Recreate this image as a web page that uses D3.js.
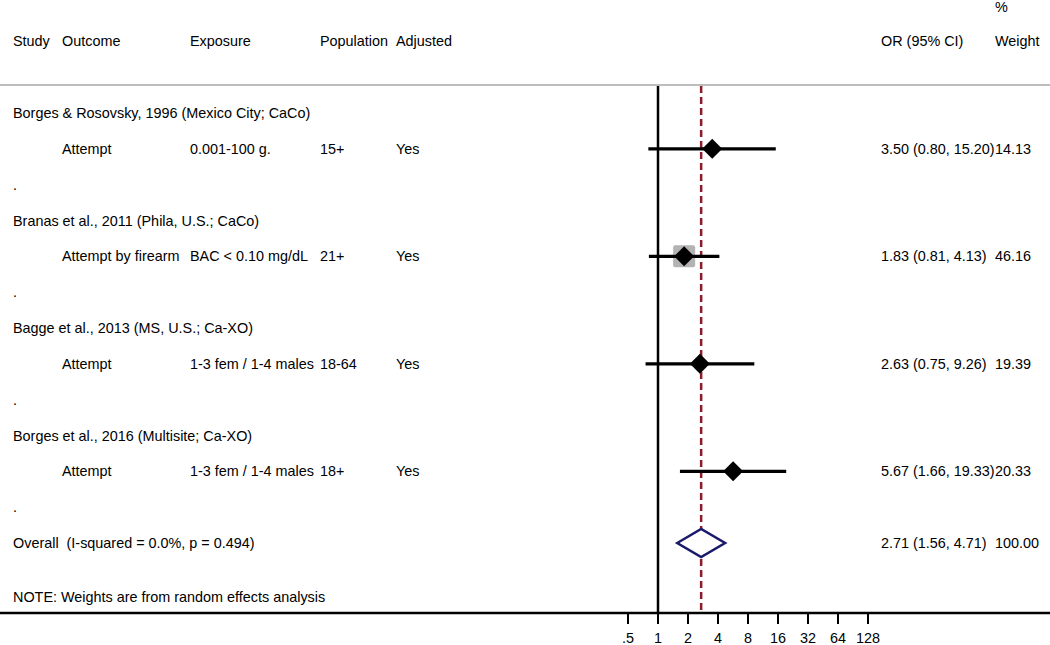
<!DOCTYPE html>
<html>
<head>
<meta charset="utf-8">
<script src="https://cdn.jsdelivr.net/npm/d3@7"></script>
<style>
  body { margin: 0; background: #fff; }
  text { font-family: "Liberation Sans", Arial, sans-serif; font-size: 14.4px; fill: #000; white-space: pre; }
</style>
</head>
<body>
<div id="forest"></div>
<script>
const studies = [
  "Borges & Rosovsky, 1996 (Mexico City; CaCo)",
  "Branas et al., 2011 (Phila, U.S.; CaCo)",
  "Bagge et al., 2013 (MS, U.S.; Ca-XO)",
  "Borges et al., 2016 (Multisite; Ca-XO)"
];
const outcomes = ["Attempt", "Attempt by firearm", "Attempt", "Attempt"];
const exposures = ["0.001-100 g.", "BAC < 0.10 mg/dL", "1-3 fem / 1-4 males", "1-3 fem / 1-4 males"];
const populations = ["15+", "21+", "18-64", "18+"];
const adjusted = ["Yes", "Yes", "Yes", "Yes"];
const orValues = [3.50, 1.83, 2.63, 5.67];
const ciLow = [0.80, 0.81, 0.75, 1.66];
const ciHigh = [15.20, 4.13, 9.26, 19.33];
const weights = [14.13, 46.16, 19.39, 20.33];
const overall = {label: "Overall  (I-squared = 0.0%, p = 0.494)", or: 2.71, lo: 1.56, hi: 4.71, weight: 100.00};
const tickValues = [0.5, 1, 2, 4, 8, 16, 32, 64, 128];
const tickLabels = [".5", "1", "2", "4", "8", "16", "32", "64", "128"];

const width = 1050;
const height = 645;

const svg = d3.select("#forest")
  .append("svg")
  .attr("width", width)
  .attr("height", height);

// log2 axis, 1 doubling ~ 30px
const x = d3.scaleLog().base(2)
  .domain([0.5, 128])
  .range([628, 868]);

// row positions (13 rows incl. overall, note 1.5 rows below)
const y = d3.scaleLinear().domain([0, 12]).range([113, 543]);

const boxSize = d3.scaleLinear().domain([0, d3.max(weights)]).range([0, 22]);

const fmt = d3.format(".2f");
const colX = {study: 13, outcome: 62, exposure: 190, population: 320, adjusted: 396, or: 881, weight: 995};

function addText(tx, ty, str) {
  svg.append("text").attr("x", tx).attr("y", ty).attr("dy", "0.35em").text(str);
}

// header
addText(colX.study, 41, "Study");
addText(colX.outcome, 41, "Outcome");
addText(colX.exposure, 41, "Exposure");
addText(colX.population, 41, "Population");
addText(colX.adjusted, 41, "Adjusted");
addText(colX.or, 41, "OR (95% CI)");
addText(colX.weight, 7, "%");
addText(colX.weight, 41, "Weight");

svg.append("line")
  .attr("x1", 0).attr("x2", width)
  .attr("y1", 85).attr("y2", 85)
  .attr("stroke", "#bdbdbd").attr("stroke-width", 2);

// bottom axis
const axisY = 613;
svg.append("line")
  .attr("x1", 0).attr("x2", width)
  .attr("y1", axisY).attr("y2", axisY)
  .attr("stroke", "#000").attr("stroke-width", 2.5);

svg.selectAll(".tick")
  .data(tickValues)
  .enter()
  .append("line")
  .attr("x1", d => x(d)).attr("x2", d => x(d))
  .attr("y1", axisY).attr("y2", axisY + 11)
  .attr("stroke", "#000").attr("stroke-width", 2);

svg.selectAll(".tickLabel")
  .data(tickValues)
  .enter()
  .append("text")
  .attr("x", d => x(d))
  .attr("y", 638)
  .attr("dy", "0.35em")
  .attr("text-anchor", "middle")
  .text((d, i) => tickLabels[i]);

// null line and overall line
svg.append("line")
  .attr("x1", x(1)).attr("x2", x(1))
  .attr("y1", 86).attr("y2", axisY)
  .attr("stroke", "#000").attr("stroke-width", 2.5);

svg.append("line")
  .attr("x1", x(overall.or)).attr("x2", x(overall.or))
  .attr("y1", 86).attr("y2", axisY)
  .attr("stroke", "#8b1c2c").attr("stroke-width", 2.5)
  .attr("stroke-dasharray", "7,4");

// study rows
studies.forEach((name, i) => {
  const headRow = y(i * 3);
  const dataRow = y(i * 3 + 1);
  const dotRow = y(i * 3 + 2);

  addText(colX.study, headRow, name);
  addText(colX.outcome, dataRow, outcomes[i]);
  addText(colX.exposure, dataRow, exposures[i]);
  addText(colX.population, dataRow, populations[i]);
  addText(colX.adjusted, dataRow, adjusted[i]);
  addText(colX.study, dotRow, ".");

  const orStr = `${fmt(orValues[i])} (${fmt(ciLow[i])}, ${fmt(ciHigh[i])})`;
  addText(colX.or, dataRow, orStr);
  addText(colX.weight, dataRow, fmt(weights[i]));

  const s = boxSize(weights[i]);
  svg.append("rect")
    .attr("x", x(orValues[i]) - s / 2)
    .attr("y", dataRow - s / 2)
    .attr("width", s).attr("height", s)
    .attr("rx", 2)
    .attr("fill", "#b3b3b3");

  svg.append("line")
    .attr("x1", x(ciLow[i])).attr("x2", x(ciHigh[i]))
    .attr("y1", dataRow).attr("y2", dataRow)
    .attr("stroke", "#000").attr("stroke-width", 3.2);

  const cx = x(orValues[i]);
  const r = 10;
  svg.append("path")
    .attr("d", `M${cx - r},${dataRow}L${cx},${dataRow - r}L${cx + r},${dataRow}L${cx},${dataRow + r}Z`)
    .attr("fill", "#000");
});

// overall row
const oy = y(12);
addText(colX.study, oy, overall.label);
addText(colX.or, oy, `${fmt(overall.or)} (${fmt(overall.lo)}, ${fmt(overall.hi)})`);
addText(colX.weight, oy, fmt(overall.weight));

svg.append("path")
  .attr("d", `M${x(overall.lo)},${oy}L${x(overall.or)},${oy - 14}L${x(overall.hi)},${oy}L${x(overall.or)},${oy + 14}Z`)
  .attr("fill", "#fff")
  .attr("stroke", "#1a1a6b")
  .attr("stroke-width", 2.5);

addText(colX.study, y(13.5), "NOTE: Weights are from random effects analysis");
</script>
</body>
</html>
